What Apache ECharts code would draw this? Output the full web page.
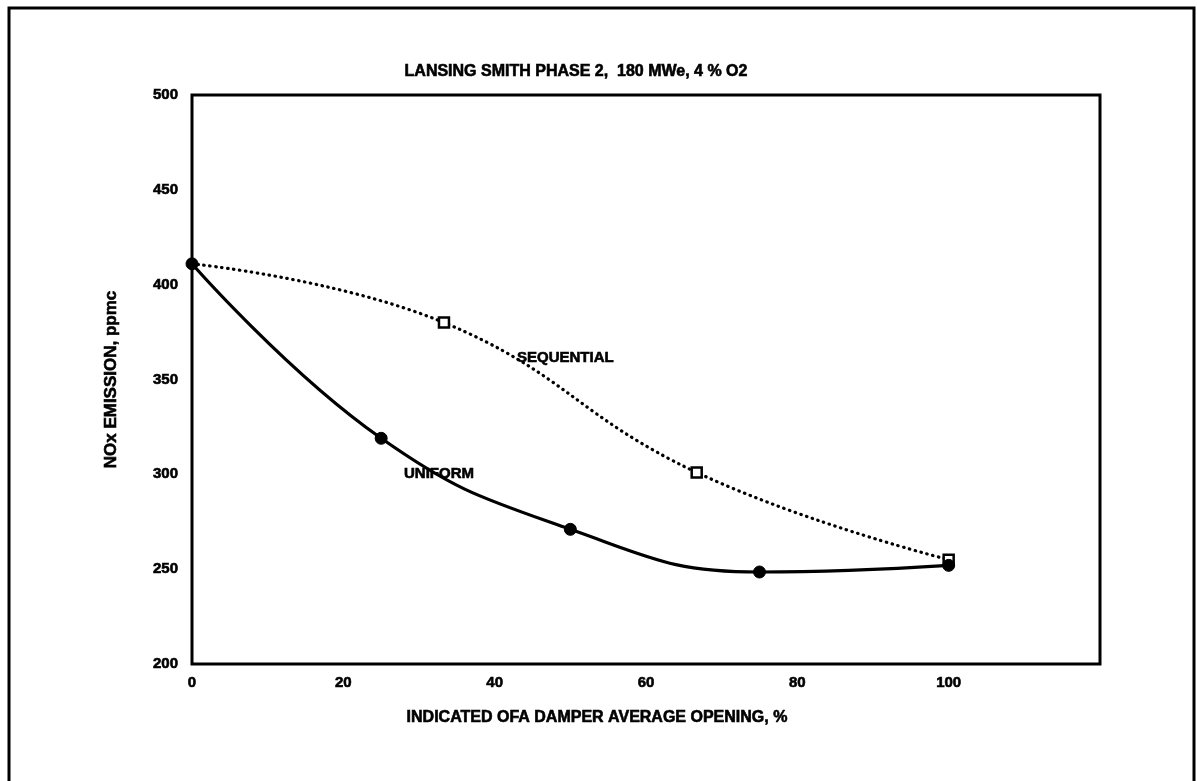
<!DOCTYPE html>
<html>
<head>
<meta charset="utf-8">
<style>
  html, body { margin: 0; padding: 0; background: #fff; }
  #chart { width: 1197px; height: 781px; }
</style>
<script src="https://cdn.jsdelivr.net/npm/echarts@6/dist/echarts.min.js"></script>
</head>
<body>
<div id="chart"></div>
<script>
// OFA damper opening (%) vs NOx emission (ppmc)
const uniformX = [0, 25, 50, 75, 100];
const uniformY = [411, 319, 271, 248.5, 252];

const sequentialX = [0, 33.3, 66.7, 100];
const sequentialY = [411, 380, 301, 255];

const xTicks = [0, 20, 40, 60, 80, 100];
const yTicks = [200, 250, 300, 350, 400, 450, 500];

const titleText = 'LANSING SMITH PHASE 2,  180 MWe, 4 % O2';
const xName = 'INDICATED OFA DAMPER AVERAGE OPENING, %';
const yName = 'NOx EMISSION, ppmc';

const FONT = '"Liberation Sans", Arial, sans-serif';
// heavy, slightly smeared lettering
const INK = { color: '#000', fontFamily: FONT, fontWeight: 'bold', textBorderColor: '#000', textBorderWidth: 0.6 };

const pairs = (xs, ys) => xs.map((x, i) => [x, ys[i]]);

const chart = echarts.init(document.getElementById('chart'), null, { renderer: 'canvas' });

const seqData = pairs(sequentialX, sequentialY).map((p, i) =>
  i === 0 ? { value: p, symbol: 'none' } : p
);

function note(text, x, y, size, align) {
  return {
    type: 'text', x: x, y: y,
    style: {
      text: text, fill: '#000', font: 'bold ' + size + 'px ' + FONT,
      stroke: '#000', lineWidth: 0.6,
      textAlign: align, textVerticalAlign: 'middle'
    }
  };
}

chart.setOption({
  backgroundColor: '#fff',
  animation: false,
  title: {
    text: titleText,
    left: 571,
    textAlign: 'center',
    top: 59,
    textStyle: Object.assign({ fontSize: 16 }, INK)
  },
  grid: {
    left: 192, right: 97, top: 95, bottom: 117,
    show: true, borderColor: '#000', borderWidth: 3, backgroundColor: 'transparent'
  },
  xAxis: {
    type: 'value',
    min: 0, max: 120, interval: 20,
    axisLine: { show: false },
    axisTick: { show: false },
    splitLine: { show: false },
    axisLabel: Object.assign({
      margin: 11, fontSize: 15,
      formatter: v => (xTicks.indexOf(v) >= 0 ? String(v) : '')
    }, INK)
  },
  yAxis: {
    type: 'value',
    min: 200, max: 500, interval: 50,
    name: yName,
    nameLocation: 'middle',
    nameGap: 72,
    nameRotate: 90,
    nameTextStyle: Object.assign({ fontSize: 17 }, INK),
    axisLine: { show: false },
    axisTick: { show: false },
    splitLine: { show: false },
    axisLabel: Object.assign({
      margin: 14, fontSize: 15,
      formatter: v => (yTicks.indexOf(v) >= 0 ? String(v) : '')
    }, INK)
  },
  graphic: [
    {
      type: 'rect',
      shape: { x: 9, y: 8, width: 1185, height: 800 },
      style: { fill: 'none', stroke: '#000', lineWidth: 3 },
      silent: true
    },
    note(xName, 597, 718, 16, 'center'),
    note('SEQUENTIAL', 517, 358, 15, 'left'),
    note('UNIFORM', 404, 474, 15, 'left')
  ],
  series: [
    {
      name: 'SEQUENTIAL',
      type: 'line',
      smooth: 0.45,
      data: seqData,
      symbol: 'rect',
      symbolSize: 10,
      itemStyle: { color: '#fff', borderColor: '#000', borderWidth: 2.5 },
      lineStyle: { color: '#000', width: 3.2, type: [0.5, 5.5], cap: 'round' },
      z: 2
    },
    {
      name: 'UNIFORM',
      type: 'line',
      smooth: 0.45,
      data: pairs(uniformX, uniformY),
      symbol: 'circle',
      symbolSize: 12,
      itemStyle: { color: '#000', borderColor: '#000' },
      lineStyle: { color: '#000', width: 3.2 },
      z: 3
    }
  ]
});
</script>
</body>
</html>
